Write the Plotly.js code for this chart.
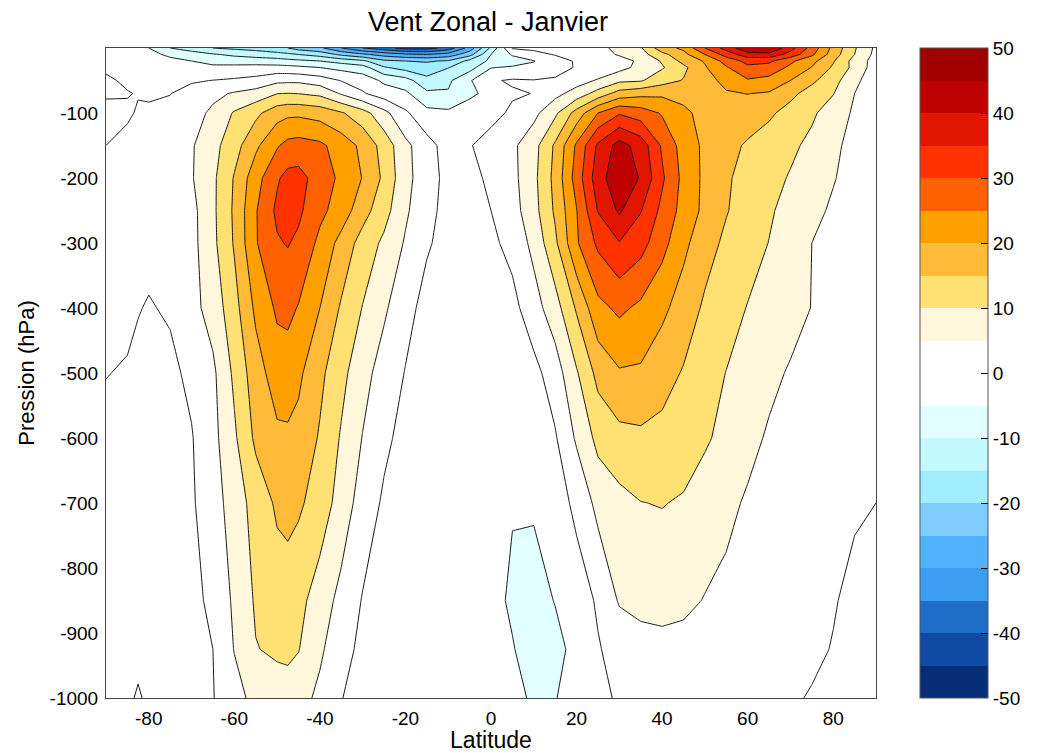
<!DOCTYPE html>
<html>
<head>
<meta charset="utf-8">
<script src="https://cdn.plot.ly/plotly-3.0.1.min.js"></script>
<style>html,body{margin:0;padding:0;background:#fff}#chart{width:1045px;height:753px}</style>
</head>
<body>
<div id="chart"></div>
<script>
const latitudes = [-90,-85,-82.5,-80,-75,-70,-65,-60,-55,-50,-47.5,-45,-40,-35,-30,-25,-20,-15,-10,-5,0,5,10,15,20,25,30,35,40,45,50,55,60,65,70,75,80,85,90];
const pressureLevels = [-1000,-925,-850,-700,-600,-500,-400,-300,-250,-200,-150,-100,-70,-50,-30,-20,-10,0];

const p1000 = [-1.5,-1,0.6,-1,-1.5,-1.5,-0.2,3.2,6.5,7.7,8,7,3.8,0.1,-1.2,-2,-2.5,-2.5,-3,-3,-3,-4,-5.5,-5.2,-3,-1,0.5,1.5,2,2,2,2,1.5,1,0.5,-0.3,-1,-1,-1];
const p925 = [-1.5,-1.5,-1.5,-1.5,-1.5,-1,0,5.2,9.8,10.8,11,10.2,5.9,1.5,-1,-2,-2.5,-3,-3,-3,-3.5,-4.8,-6.5,-6.5,-3.5,-0.3,1.5,3,3.5,3.5,3.5,3,2.5,2,1.5,0.8,-0.2,-1,-1.5];
const p850 = [-1,-1,-1,-1,-1,-1,0.8,5.9,10.6,12.6,13,11.5,7.6,3.5,-0.3,-1.5,-2.5,-3,-3,-3.5,-4,-5.5,-7,-4.8,-2,0.5,5.5,6.5,6.7,6,4.8,4,3.5,2.8,2,1,0.3,-1,-1.5];
const p700 = [-1.5,-1.2,-1,-1,-1,-0.6,2.8,7.3,12,15.8,16.3,15.8,12.8,7.9,2.7,-0.7,-2,-3,-3,-3,-3,-4.8,-4.4,-2,1,6.5,8.5,9.9,10.2,9.5,7.5,6,4.5,3.5,2.8,2,1.3,0.5,0];
const p600 = [-1,-0.8,-0.7,-0.6,-0.6,-0.3,3.5,9.2,16,19,19.2,18.5,14.5,9.5,4.8,1,-1.5,-2.5,-2.5,-2.5,-2.5,-2.5,-1.5,-0.5,5.7,11.4,13.5,14,13.5,12.5,10.7,8.5,6.2,4.5,3.5,2.8,2,1.2,0.5];
const p500 = [0.1,-0.3,-1,-1.3,-1,1,4,11,17.8,22.5,22.5,21,16.2,11.4,6.8,2.8,-0.2,-2,-2.5,-2,-2,-1.5,-1.5,2.5,9.5,16.5,19.5,19.3,17,14.6,12,9.9,7.9,6,4.6,3.7,2.8,1.8,0.7];
const p400 = [1,0.8,0.2,-0.3,0.5,3.4,7,13.2,21,25.8,26.3,24.7,20,14.4,9.8,5.8,1.5,-1.5,-2,-1.5,-1.2,-1.5,2.9,7.9,15.6,23.6,26,24,21.1,17.8,14.2,12,9.8,8,6.5,4.9,3.8,2.7,1];
const p300 = [2,1.5,1.3,1.2,1.5,3.4,8.8,15.5,24.6,29.5,30.3,29,23.8,18.3,13,9,4.5,0.5,-1.5,-1.5,-1,1.5,6.4,14,24.4,31,34.8,31.9,26.7,21.2,17,14,12,9.9,7.5,5,3.8,2.5,0.8];
const p250 = [1.5,1.5,1.4,1.3,1.5,3.5,9,15.8,24.6,31,33,31,26.2,22.8,17,11.9,5.8,1.4,-1.5,-2,0,3,8.2,15.8,24.8,35.3,40.8,35.3,28.7,23.2,18.8,15.3,12.8,10.6,8.4,6.3,4.3,2.8,1];
const p200 = [1,1,1,1,1,4.6,9,15.4,23,29.4,31.5,31.7,27.8,23.9,19.8,14,6.5,2.2,-1.5,-1.5,1,3.6,8.7,16.5,27.2,37.9,43.5,39.6,30.8,23.6,18.9,15.6,13.4,11.6,9.6,7.5,5.3,3.2,1.2];
const p150 = [0,0.6,0.9,1,1.3,4.5,8.4,13,19,24.5,26.5,27,26,22.8,18.8,13,6.3,1.8,-2,-0.3,1.9,4,8.2,15.8,25.8,35.9,42,37.9,29.3,22.9,19,16.5,14.4,12.7,11,8.8,6,3.5,1.5];
const p100 = [-0.5,-0.3,0.2,0.5,1,3,6,10.5,13.8,18,18.9,19,18,15.5,12,6.5,0.8,-3.5,-4,-2.5,-1.5,0.8,3.6,9,17,25,29.5,27.5,24.5,21,18.5,18,17.5,15.8,13.3,10.8,7.6,4.3,1.5];
const p70 = [0.2,0.1,-0.1,-0.4,-0.1,1.7,3.8,5.5,7,9.9,10.1,9.9,8.8,4.5,0.5,-2.5,-4,-9,-9.5,-6,-3.5,-0.5,0.1,3.5,7,12,17,18.5,19,18.5,18.5,19.5,20.1,19.5,16.2,13,10.2,5,2];
const p50 = [0.3,-0.3,-0.7,-1,-1,-0.5,0.1,0.7,1.5,3.8,4,4,2.5,-0.2,-2,-6,-8,-13.5,-11,-5.5,-0.5,0.5,0.2,0.5,3,5.5,9,9.5,13,15.3,18,21.5,24.5,23.5,20,16,12,6,2.5];
const p30 = [-0.3,-1,-1.5,-2,-3,-3.8,-4,-3.7,-3.2,-3.2,-3.5,-4,-5,-6.5,-8,-14.5,-17,-18,-15.2,-12,-5.2,-4.5,-4,-1.5,0.3,1.5,3.3,6.5,9.5,13.8,19.5,24.5,29,28,24,19.8,14.3,8.5,2.5];
const p20 = [-1,-1.5,-2.3,-3,-3.7,-5,-6.5,-7,-7.5,-8,-8.5,-9,-10,-12,-14,-19,-20,-20.5,-19.5,-13.5,-9,-7,-5.2,-2,0.5,2.5,3,6,10.5,16.5,20.5,27,31.5,31,26,21.5,15.5,8,3];
const p10 = [-1.5,-2,-2.8,-3.5,-6,-8,-9.5,-11,-12,-13,-14,-15,-17,-21,-24,-27,-29,-30,-28,-22,-10,-4.5,-1.5,0.3,1.5,3,5.5,8,13.5,18.5,25,32,38,38.5,33,26,17.5,10,3.5];
const p0 = [-2,-2,-3.5,-5,-10,-12,-15,-16,-17,-19,-20,-22,-24,-30,-35,-38,-42,-42,-38,-28,-14,0.5,1,1,2.5,4,6,9.5,18,21,30,37,44,45,37,28,18.5,10.5,4];

const windValues = [p1000,p925,p850,p700,p600,p500,p400,p300,p250,p200,p150,p100,p70,p50,p30,p20,p10,p0];

const bandColors = ['#082D78','#0F4BA5','#1E6EC8','#3C9EF0','#50B2FF','#7FCCFF','#A0EEFF','#C3F8FF','#E1FFFF','#FFFFFF',
                    '#FFFFFF','#FFF7DC','#FFE173','#FFBB38','#FFA000','#FF6100','#FF3200','#E11500','#BE0000','#A00000'];
const colorbarTicks = [-50,-40,-30,-20,-10,0,10,20,30,40,50];
const xTicks = [-80,-60,-40,-20,0,20,40,60,80];
const yTicks = [-1000,-900,-800,-700,-600,-500,-400,-300,-200,-100];

const colorscale = [];
bandColors.forEach((c,i)=>{
  colorscale.push([i/bandColors.length,c]);
  colorscale.push([(i+1)/bandColors.length,c]);
});

const font = 'Liberation Sans, Arial, sans-serif';
const contourSpec = {start:-50,end:50,size:5};
const barLeft = 1.0571;
const barTick = 7/770;

const filled = {
  type:'contour', x:latitudes, y:pressureLevels, z:windValues,
  zmin:-50, zmax:50, zauto:false, autocontour:false,
  colorscale:colorscale,
  contours:Object.assign({coloring:'fill',showlines:false},contourSpec),
  line:{width:0,smoothing:0},
  hoverinfo:'skip',
  colorbar:{
    thickness:68, thicknessmode:'pixels', len:1, lenmode:'fraction',
    x:barLeft, xanchor:'left', y:1, yanchor:'top', xpad:0, ypad:0,
    tickmode:'array', tickvals:colorbarTicks, ticktext:colorbarTicks.map(String),
    ticks:'inside', ticklen:7, tickwidth:1, tickcolor:'#000',
    outlinecolor:'#555', outlinewidth:1,
    tickfont:{family:font,size:19,color:'#000'}
  }
};
const lines = {
  type:'contour', x:latitudes, y:pressureLevels, z:windValues,
  zmin:-50, zmax:50, zauto:false, autocontour:false,
  showscale:false,
  contours:Object.assign({coloring:'none',showlines:true},contourSpec),
  line:{color:'#1a1a1a',width:1,smoothing:0},
  hoverinfo:'skip'
};

const barLeftTicks = colorbarTicks.filter(v=>Math.abs(v)<50).map(v=>({
  type:'line', xref:'paper', yref:'paper',
  x0:barLeft, x1:barLeft+barTick, y0:(v+50)/100, y1:(v+50)/100,
  line:{color:'#000',width:1}
}));

const layout = {
  width:1045, height:753,
  margin:{l:106,r:169,t:47.5,b:55,pad:0},
  paper_bgcolor:'#fff', plot_bgcolor:'#fff',
  title:{text:'Vent Zonal - Janvier',font:{family:font,size:27,color:'#000'},x:0.467,xanchor:'center',y:0.971,yanchor:'middle'},
  shapes:barLeftTicks,
  xaxis:{
    range:[-90,90], tickmode:'array', tickvals:xTicks, ticktext:xTicks.map(String),
    ticks:'outside', ticklen:3, tickcolor:'rgba(0,0,0,0)', showgrid:false, zeroline:false, showline:true, mirror:true, linecolor:'#444', linewidth:1,
    tickfont:{family:font,size:19,color:'#000'},
    title:{text:'Latitude',font:{family:font,size:23,color:'#000'},standoff:3}
  },
  yaxis:{
    range:[-1000,0], tickmode:'array', tickvals:yTicks, ticktext:yTicks.map(String),
    ticks:'outside', ticklen:3, tickcolor:'rgba(0,0,0,0)', showgrid:false, zeroline:false, showline:true, mirror:true, linecolor:'#444', linewidth:1,
    tickfont:{family:font,size:19,color:'#000'},
    title:{text:'Pression (hPa)',font:{family:font,size:22,color:'#000'},standoff:8}
  },
  showlegend:false
};
Plotly.newPlot('chart',[filled,lines],layout,{displayModeBar:false,staticPlot:true});
</script>
</body>
</html>
